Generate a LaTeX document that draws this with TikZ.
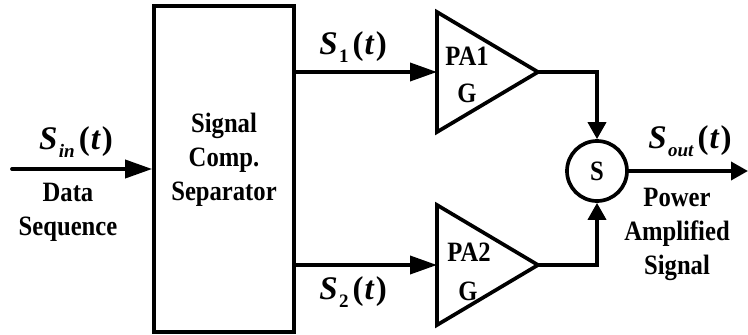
\documentclass[tikz,border=0pt]{standalone}
\usepackage{fontspec}
\setmainfont[FakeStretch=0.88]{Liberation Serif}
\newfontfamily\labfont{Liberation Serif}
\usetikzlibrary{arrows.meta,shapes.geometric}
\newcommand{\sigl}[1]{{\labfont\fontsize{33}{34}\selectfont\bfseries{\itshape S}\kern1.5pt\raisebox{-0.5ex}{\fontsize{19}{19}\selectfont #1}\kern4pt(\kern1pt{\itshape t}\kern2pt)}}
\tikzset{
  ln/.style={line width=3.7pt},
  arrbig/.style={ln,-{Triangle[length=27pt,width=18pt]}},
  arrsmall/.style={ln,-{Triangle[length=17pt,width=18pt]}},
  txt/.style={font=\fontsize{28}{34}\selectfont\bfseries, align=center, inner sep=0pt},
}
\begin{document}
\begin{tikzpicture}[x=1pt,y=-1pt]
\useasboundingbox (0,0) rectangle (748,335);
% separator box
\node[ln, draw, minimum width=140pt, minimum height=326pt, inner sep=0pt] (sep) at (224,169) {};
\node[txt] (septxt) at (224,160) {Signal\\Comp.\\Separator};
% amplifiers
\coordinate (pa1in) at (437,72);
\coordinate (pa1out) at (538,72);
\coordinate (pa2in) at (437,265);
\coordinate (pa2out) at (538,265);
\draw[ln, line join=miter] (437,12) -- (pa1out) -- (437,132) -- cycle;
\draw[ln, line join=miter] (437,205) -- (pa2out) -- (437,325) -- cycle;
\node[txt] (pa1a) at (467,56) {PA1};
\node[txt] (pa1g) at (467,93) {G};
\node[txt] (pa2a) at (469,252) {PA2};
\node[txt] (pa2g) at (468,291) {G};
% summer
\node[ln, draw, circle, minimum size=60pt, inner sep=0pt, font=\fontsize{28}{28}\selectfont\bfseries] (sum) at (597,171) {S};
% input
\coordinate (inp) at (12,169);
\draw[arrbig, line cap=round] (inp) -- (sep.west);
\node[inner sep=0pt] (sin) at (76,142) {\sigl{\itshape in}};
\node[txt] (data) at (68,212) {Data\\Sequence};
% branches
\draw[arrbig] (sep.east |- pa1in) -- (pa1in);
\draw[arrbig] (sep.east |- pa2in) -- (pa2in);
\node[inner sep=0pt] (s1) at (353,47) {\sigl{1}};
\node[inner sep=0pt] (s2) at (353,292) {\sigl{2}};
\draw[arrsmall] (pa1out) -| (sum.north);
\draw[arrsmall] (pa2out) -| (sum.south);
% output
\coordinate (outp) at (748,171);
\draw[arrsmall] (sum.east) -- (outp);
\node[inner sep=0pt] (sout) at (690,141) {\sigl{\itshape out}};
\node[txt] (pas) at (677,234) {Power\\Amplified\\Signal};
\end{tikzpicture}
\end{document}
